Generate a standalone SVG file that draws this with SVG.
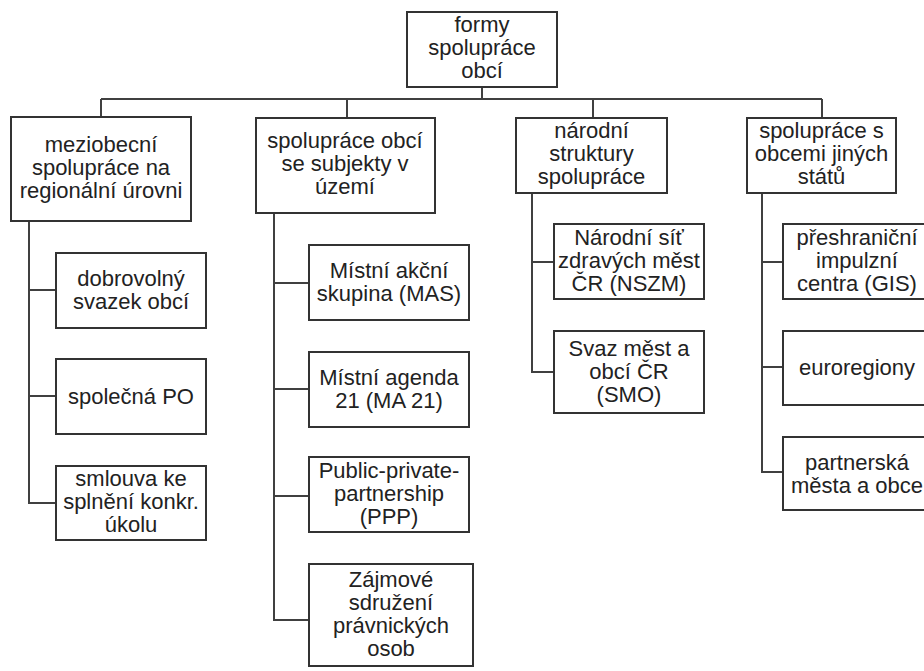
<svg xmlns="http://www.w3.org/2000/svg" width="924" height="671" viewBox="0 0 924 671">
<style>
.box{fill:#fff;stroke:#333;stroke-width:2}
.t{font-family:"Liberation Sans",Arial,sans-serif;font-size:22px;fill:#222;text-anchor:middle}
.c{fill:none;stroke:#404040;stroke-width:2}
</style>
<rect width="924" height="671" fill="#fff"/>
<g id="connectors">
<path class="c" d="M482 87V99M101 99H822M101 99V117M347 99V118M593 99V118M822 99V118"/>
<path class="c" d="M29 221V503H56M29 290H56M29 396H56"/>
<path class="c" d="M274 213V620H309M274 283H309M274 389H309M274 496H309"/>
<path class="c" d="M532 193V372H554M532 262H554"/>
<path class="c" d="M762 193V472H783M762 262H783M762 367H783"/>
</g>
<g id="root"><rect class="box" x="407" y="12" width="150" height="75"/>
<text class="t" x="482" y="32">formy</text><text class="t" x="482" y="55">spolupráce</text><text class="t" x="482" y="78">obcí</text></g>
<g id="meziobecni"><rect class="box" x="11" y="117" width="180" height="104"/>
<text class="t" x="101" y="152">meziobecní</text><text class="t" x="101" y="175">spolupráce na</text><text class="t" x="101" y="198">regionální úrovni</text></g>
<g id="subjekty"><rect class="box" x="256" y="118" width="179" height="95"/>
<text class="t" x="345" y="148">spolupráce obcí</text><text class="t" x="345" y="171">se subjekty v</text><text class="t" x="345" y="194">území</text></g>
<g id="narodni"><rect class="box" x="516" y="118" width="151" height="75"/>
<text class="t" x="591.5" y="138">národní</text><text class="t" x="591.5" y="161">struktury</text><text class="t" x="591.5" y="184">spolupráce</text></g>
<g id="zahranici"><rect class="box" x="747" y="118" width="149" height="75"/>
<text class="t" x="821.5" y="138">spolupráce s</text><text class="t" x="821.5" y="161">obcemi jiných</text><text class="t" x="821.5" y="184">států</text></g>
<g id="dso"><rect class="box" x="56" y="253" width="150" height="75"/>
<text class="t" x="131" y="286">dobrovolný</text><text class="t" x="131" y="309">svazek obcí</text></g>
<g id="po"><rect class="box" x="56" y="359" width="150" height="75"/>
<text class="t" x="131" y="404">společná PO</text></g>
<g id="smlouva"><rect class="box" x="56" y="466" width="150" height="74"/>
<text class="t" x="131" y="486">smlouva ke</text><text class="t" x="131" y="509">splnění konkr.</text><text class="t" x="131" y="532">úkolu</text></g>
<g id="mas"><rect class="box" x="309" y="245" width="160" height="75"/>
<text class="t" x="389" y="278">Místní akční</text><text class="t" x="389" y="301">skupina (MAS)</text></g>
<g id="ma21"><rect class="box" x="309" y="352" width="160" height="75"/>
<text class="t" x="389" y="385">Místní agenda</text><text class="t" x="389" y="408">21 (MA 21)</text></g>
<g id="ppp"><rect class="box" x="309" y="457" width="160" height="75"/>
<text class="t" x="389" y="478">Public-private-</text><text class="t" x="389" y="501">partnership</text><text class="t" x="389" y="524">(PPP)</text></g>
<g id="zajmove"><rect class="box" x="309" y="564" width="164" height="102"/>
<text class="t" x="391" y="587">Zájmové</text><text class="t" x="391" y="610">sdružení</text><text class="t" x="391" y="633">právnických</text><text class="t" x="391" y="656">osob</text></g>
<g id="nszm"><rect class="box" x="554" y="224" width="150" height="75"/>
<text class="t" x="629" y="245">Národní síť</text><text class="t" x="629" y="268">zdravých měst</text><text class="t" x="629" y="291">ČR (NSZM)</text></g>
<g id="smo"><rect class="box" x="554" y="331" width="150" height="82"/>
<text class="t" x="629" y="356">Svaz měst a</text><text class="t" x="629" y="379">obcí ČR</text><text class="t" x="629" y="402">(SMO)</text></g>
<g id="gis"><rect class="box" x="783" y="224" width="150" height="75"/>
<text class="t" x="857" y="245">přeshraniční</text><text class="t" x="857" y="268">impulzní</text><text class="t" x="857" y="291">centra (GIS)</text></g>
<g id="euroregiony"><rect class="box" x="783" y="331" width="150" height="74"/>
<text class="t" x="857" y="375">euroregiony</text></g>
<g id="partnerska"><rect class="box" x="783" y="437" width="150" height="73"/>
<text class="t" x="857" y="470">partnerská</text><text class="t" x="857" y="493">města a obce</text></g>
</svg>
